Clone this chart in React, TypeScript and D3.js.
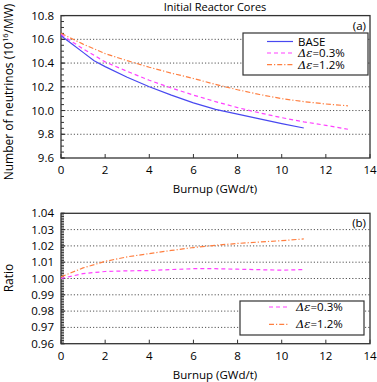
import React from 'react'
import { scaleLinear, line, range } from 'd3'

// burnup points (GWd/t)
const baseX = [0, 0.5, 1, 1.5, 2, 3, 4, 5, 6, 7, 8, 9, 10, 11]
const baseY = [10.63, 10.56, 10.49, 10.42, 10.37, 10.28, 10.2, 10.13, 10.065, 10.01, 9.97, 9.93, 9.89, 9.853]

const e03X = [0, 1, 2, 3, 4, 5, 6, 7, 8, 9, 10, 11, 12, 13]
const e03Y = [10.64, 10.52, 10.41, 10.33, 10.255, 10.19, 10.13, 10.075, 10.025, 9.98, 9.94, 9.905, 9.875, 9.842]

const e12X = [0, 1, 2, 3, 4, 5, 6, 7, 8, 9, 10, 11, 12, 13]
const e12Y = [10.65, 10.56, 10.48, 10.42, 10.365, 10.315, 10.27, 10.22, 10.175, 10.135, 10.1, 10.075, 10.055, 10.04]

const ratioX = [0, 1, 2, 3, 4, 5, 6, 7, 8, 9, 10, 11]
const ratio03 = [1.0, 1.003, 1.0043, 1.0047, 1.0049, 1.0055, 1.006, 1.006, 1.0057, 1.0054, 1.0051, 1.0055]
const ratio12 = [1.001, 1.0065, 1.0105, 1.0133, 1.0153, 1.0172, 1.019, 1.0204, 1.0215, 1.0224, 1.0232, 1.0243]

const xTicks = [0, 2, 4, 6, 8, 10, 12, 14]
const topTicks = [9.6, 9.8, 10.0, 10.2, 10.4, 10.6, 10.8]
const botTicks = [0.96, 0.97, 0.98, 0.99, 1.0, 1.01, 1.02, 1.03, 1.04]

const BLUE = '#4848f0'
const MAGENTA = '#ff40ff'
const ORANGE = '#ff7f40'
const FRAME = '#333'
const FONT = '"Open Sans", "Noto Sans", sans-serif'

const x = scaleLinear().domain([0, 14]).range([61, 370])
const yTop = scaleLinear().domain([9.6, 10.8]).range([158, 15.6])
const yBot = scaleLinear().domain([0.96, 1.04]).range([343.7, 213.3])

const Eps = ({ label }: { label: string }) => (
  <>
    <tspan fontFamily='"DejaVu Serif", "Liberation Serif", serif' fontStyle='italic'>Δε</tspan>
    <tspan>{label}</tspan>
  </>
)

const Panel = ({ y, ticks, minor, fmt, tag }: any) => {
  const [y0, y1] = y.range()
  const inner = ticks.slice(1, -1)
  return (
    <g>
      {inner.map((t: number) => (
        <line key={t} x1={x(0)} x2={x(14)} y1={y(t)} y2={y(t)} stroke='#555' strokeWidth={1} strokeDasharray='1.2,2' />
      ))}
      <rect x={x(0)} y={y1} width={x(14) - x(0)} height={y0 - y1} fill='none' stroke={FRAME} strokeWidth={1.3} />
      {minor.map((t: number, i: number) => (
        <line key={'m' + i} x1={x(0)} x2={x(0) + 3} y1={y(t)} y2={y(t)} stroke={FRAME} strokeWidth={1} />
      ))}
      {ticks.map((t: number) => (
        <g key={t}>
          <line x1={x(0)} x2={x(0) + 4} y1={y(t)} y2={y(t)} stroke={FRAME} strokeWidth={1} />
          <text x={54} y={y(t) + 4} textAnchor='end' fontSize={11.5}>{fmt(t)}</text>
        </g>
      ))}
      {xTicks.map(t => (
        <g key={'x' + t}>
          <line x1={x(t)} x2={x(t)} y1={y0} y2={y0 - 4} stroke={FRAME} strokeWidth={1} />
          <text x={x(t)} y={y0 + 16} textAnchor='middle' fontSize={11.5}>{t}</text>
        </g>
      ))}
      <text x={215} y={y0 + 35} textAnchor='middle' fontSize={11.5}>Burnup (GWd/t)</text>
      <text x={366} y={y1 + 14} textAnchor='end' fontSize={11.5}>{tag}</text>
    </g>
  )
}

export default function App() {
  const lTop = (xs: number[], ys: number[]) =>
    line<number>().x((_, i) => x(xs[i])).y(d => yTop(d))(ys) ?? ''
  const lBot = (ys: number[]) =>
    line<number>().x((_, i) => x(ratioX[i])).y(d => yBot(d))(ys) ?? ''

  const minorTop = range(0, 25).map(i => 9.6 + i * 0.05)
  const minorBot = range(0, 81).map(i => 0.96 + i * 0.001)

  return (
    <svg width={377} height={382} style={{ position: 'absolute', left: 0, top: 0, fontFamily: FONT }}>
      <rect width={377} height={382} fill='#fff' />
      <text x={215} y={11} textAnchor='middle' fontSize={11}>Initial Reactor Cores</text>

      <Panel y={yTop} ticks={topTicks} minor={minorTop} fmt={(t: number) => t.toFixed(1)} tag='(a)' />
      <Panel y={yBot} ticks={botTicks} minor={minorBot} fmt={(t: number) => t.toFixed(2)} tag='(b)' />

      <text transform='translate(12.5,92) rotate(-90)' textAnchor='middle' fontSize={12}>
        Number of neutrinos (10<tspan dy={-4.5} fontSize={7.5}>16</tspan><tspan dy={4.5}>/MW)</tspan>
      </text>
      <text transform='translate(12.5,278) rotate(-90)' textAnchor='middle' fontSize={12}>Ratio</text>

      <path d={lTop(e12X, e12Y)} fill='none' stroke={ORANGE} strokeWidth={1.2} strokeDasharray='5,2,1.2,2' />
      <path d={lTop(e03X, e03Y)} fill='none' stroke={MAGENTA} strokeWidth={1.2} strokeDasharray='4,3' />
      <path d={lTop(baseX, baseY)} fill='none' stroke={BLUE} strokeWidth={1.2} />

      <path d={lBot(ratio12)} fill='none' stroke={ORANGE} strokeWidth={1.2} strokeDasharray='5,2,1.2,2' />
      <path d={lBot(ratio03)} fill='none' stroke={MAGENTA} strokeWidth={1.2} strokeDasharray='4,3' />

      <g fontSize={11.5}>
        <rect x={243} y={33} width={125} height={42} fill='#fff' stroke={FRAME} strokeWidth={1.2} />
        <line x1={267} x2={293} y1={41.5} y2={41.5} stroke={BLUE} strokeWidth={1.2} />
        <text x={298} y={45.5}>BASE</text>
        <line x1={267} x2={293} y1={53} y2={53} stroke={MAGENTA} strokeWidth={1.2} strokeDasharray='4,3' />
        <text x={298} y={57}><Eps label='=0.3%' /></text>
        <line x1={267} x2={293} y1={64.7} y2={64.7} stroke={ORANGE} strokeWidth={1.2} strokeDasharray='5,2,1.2,2' />
        <text x={298} y={68.7}><Eps label='=1.2%' /></text>

        <rect x={240} y={301} width={124} height={34} fill='#fff' stroke={FRAME} strokeWidth={1.2} />
        <line x1={269} x2={289} y1={307} y2={307} stroke={MAGENTA} strokeWidth={1.2} strokeDasharray='4,3' />
        <text x={296} y={311}><Eps label='=0.3%' /></text>
        <line x1={269} x2={289} y1={324.3} y2={324.3} stroke={ORANGE} strokeWidth={1.2} strokeDasharray='5,2,1.2,2' />
        <text x={296} y={328.3}><Eps label='=1.2%' /></text>
      </g>
    </svg>
  )
}
